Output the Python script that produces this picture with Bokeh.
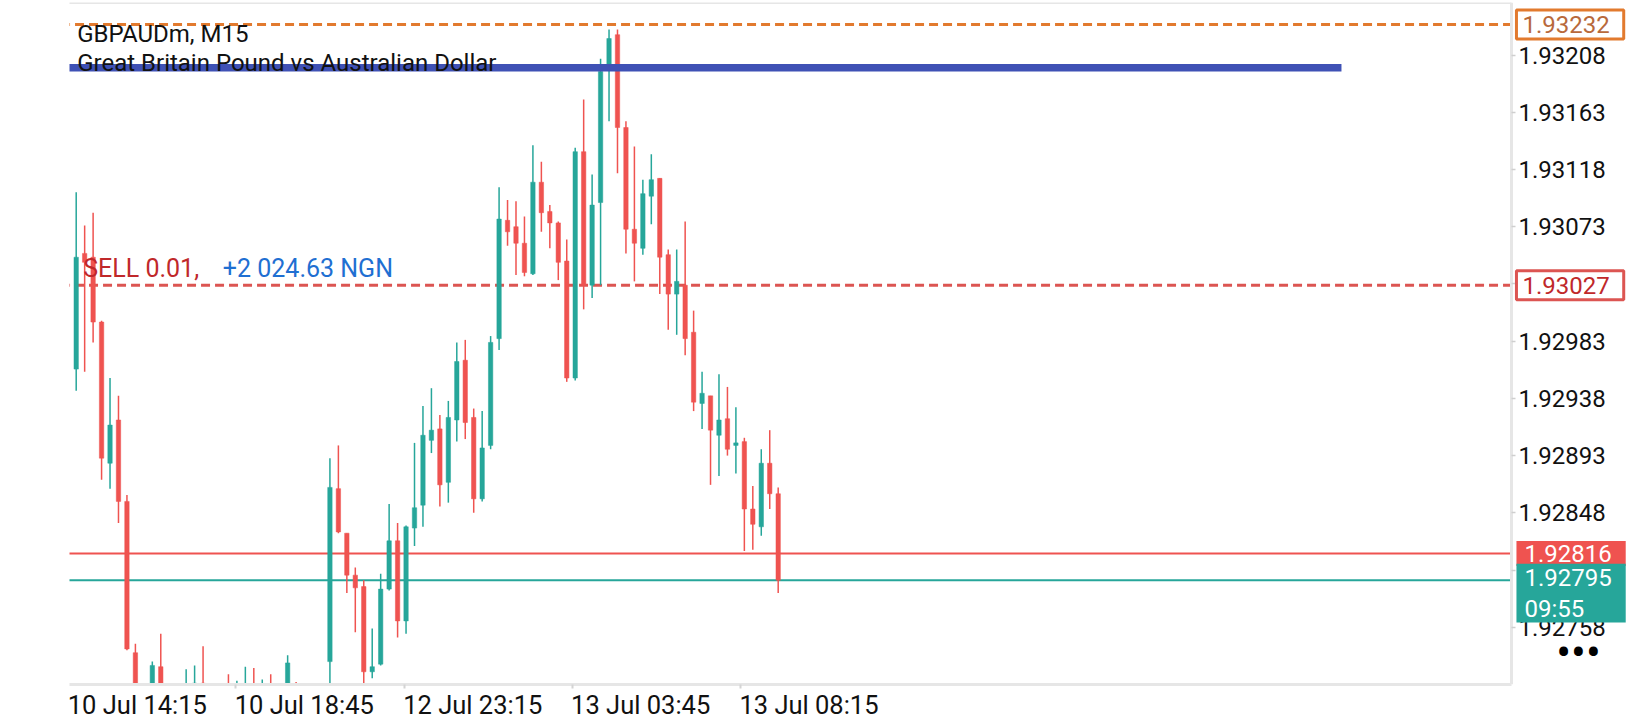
from bokeh.plotting import figure
from bokeh.models import Range1d, FixedTicker, Label, NumeralTickFormatter, ColumnDataSource
from bokeh.embed import file_html
from bokeh.resources import INLINE

# ---------------- data (GBPAUDm, M15) ----------------
opens = [1.92961, 1.93052, 1.93049, 1.92998, 1.92887, 1.92921, 1.92857, 1.92738, 1.92690, 1.92700,
         1.92727, 1.92700, 1.92692, 1.92703, 1.92705, 1.92714, 1.92700, 1.92695, 1.92710, 1.92698,
         1.92700, 1.92712, 1.92702, 1.92710, 1.92700, 1.92700, 1.92712, 1.92690, 1.92698, 1.92685,
         1.92731, 1.92867, 1.92832, 1.92799, 1.92790, 1.92723, 1.92729, 1.92788, 1.92826, 1.92763,
         1.92836, 1.92854, 1.92905, 1.92914, 1.92872, 1.92921, 1.92968, 1.92923, 1.92859, 1.92901,
         1.92985, 1.93078, 1.93073, 1.93060, 1.93036, 1.93108, 1.93085, 1.93076, 1.93046, 1.92954,
         1.93132, 1.93027, 1.93092, 1.93196, 1.93224, 1.93151, 1.93071, 1.93056, 1.93097, 1.93111,
         1.93051, 1.93020, 1.93027, 1.92990, 1.92934, 1.92940, 1.92909, 1.92922, 1.92901, 1.92904,
         1.92851, 1.92837, 1.92887, 1.92863]
highs = [1.93100, 1.93074, 1.93084, 1.92999, 1.92954, 1.92940, 1.92862, 1.92745, 1.92712, 1.92731,
         1.92753, 1.92710, 1.92708, 1.92725, 1.92728, 1.92743, 1.92712, 1.92710, 1.92721, 1.92716,
         1.92727, 1.92726, 1.92717, 1.92721, 1.92712, 1.92736, 1.92715, 1.92705, 1.92710, 1.92712,
         1.92891, 1.92901, 1.92832, 1.92805, 1.92795, 1.92757, 1.92800, 1.92855, 1.92840, 1.92838,
         1.92903, 1.92932, 1.92946, 1.92925, 1.92936, 1.92982, 1.92984, 1.92930, 1.92928, 1.92987,
         1.93104, 1.93094, 1.93093, 1.93081, 1.93137, 1.93124, 1.93090, 1.93077, 1.93063, 1.93135,
         1.93173, 1.93114, 1.93205, 1.93228, 1.93228, 1.93156, 1.93136, 1.93110, 1.93130, 1.93111,
         1.93055, 1.93055, 1.93077, 1.93007, 1.92959, 1.92940, 1.92957, 1.92947, 1.92931, 1.92907,
         1.92869, 1.92898, 1.92913, 1.92868]
lows = [1.92944, 1.92959, 1.92982, 1.92874, 1.92867, 1.92840, 1.92740, 1.92672, 1.92668, 1.92695,
        1.92690, 1.92680, 1.92675, 1.92690, 1.92695, 1.92690, 1.92685, 1.92680, 1.92690, 1.92690,
        1.92695, 1.92695, 1.92696, 1.92690, 1.92688, 1.92695, 1.92680, 1.92670, 1.92675, 1.92680,
        1.92705, 1.92832, 1.92785, 1.92754, 1.92712, 1.92718, 1.92728, 1.92787, 1.92750, 1.92753,
        1.92822, 1.92837, 1.92895, 1.92853, 1.92856, 1.92904, 1.92906, 1.92848, 1.92857, 1.92898,
        1.92976, 1.93058, 1.93035, 1.93034, 1.93035, 1.93069, 1.93056, 1.93031, 1.92951, 1.92952,
        1.93008, 1.93017, 1.93027, 1.93156, 1.93115, 1.93052, 1.93030, 1.93051, 1.93075, 1.93020,
        1.92992, 1.92988, 1.92972, 1.92928, 1.92914, 1.92870, 1.92877, 1.92893, 1.92879, 1.92818,
        1.92819, 1.92830, 1.92851, 1.92785]
closes = [1.93049, 1.93045, 1.92998, 1.92891, 1.92917, 1.92857, 1.92741, 1.92690, 1.92700, 1.92728,
          1.92700, 1.92692, 1.92703, 1.92712, 1.92714, 1.92700, 1.92695, 1.92705, 1.92698, 1.92708,
          1.92712, 1.92702, 1.92710, 1.92700, 1.92706, 1.92730, 1.92690, 1.92698, 1.92685, 1.92705,
          1.92868, 1.92833, 1.92799, 1.92789, 1.92723, 1.92727, 1.92788, 1.92826, 1.92763, 1.92837,
          1.92852, 1.92909, 1.92913, 1.92870, 1.92923, 1.92967, 1.92919, 1.92859, 1.92899, 1.92982,
          1.93079, 1.93069, 1.93060, 1.93037, 1.93108, 1.93084, 1.93076, 1.93045, 1.92954, 1.93132,
          1.93027, 1.93090, 1.93195, 1.93221, 1.93151, 1.93071, 1.93060, 1.93099, 1.93110, 1.93049,
          1.93020, 1.93030, 1.92985, 1.92935, 1.92942, 1.92913, 1.92921, 1.92898, 1.92903, 1.92851,
          1.92839, 1.92887, 1.92863, 1.92795]

x_tick_pos = [-0.87, 18.87, 38.79, 58.64, 78.54]
x_tick_labels = ["10 Jul 14:15", "10 Jul 18:45", "12 Jul 23:15", "13 Jul 03:45", "13 Jul 08:15"]
y_ticks = [1.92758, 1.92803, 1.92848, 1.92893, 1.92938, 1.92983,
           1.93028, 1.93073, 1.93118, 1.93163, 1.93208]

title_lines = ["GBPAUDm, M15", "Great Britain Pound vs Australian Dollar"]
level_price = 1.93232          # orange dashed level
order_price = 1.93027          # SELL order open price
order_text = "SELL 0.01,"
profit_text = "+2 024.63 NGN"
ask_price = 1.92816
bid_price = 1.92795
bar_timer = "09:55"
band_top = 1.93201             # blue drawn object
band_bottom = 1.93195
band_end = 149.6

# ---------------- layout / styling ----------------
GREEN = "#26a69a"
RED = "#ef5350"
ORANGE = "#e27a2e"
DASH_RED = "#dc5552"
BLUE = "#3f51b5"
FRAME = "#e6e6e6"
FONT = "Roboto"

X_START = -0.792     # left edge of the chart area (bar index)
X_BORDER = 169.70    # right border of the chart area, where the price scale sits
X_END = 184.01       # includes the price-scale strip
Y_TOP = 1.932493
Y_BOTTOM = 1.927130

p = figure(frame_width=1563, frame_height=682,
           x_range=Range1d(X_START, X_END), y_range=Range1d(Y_BOTTOM, Y_TOP),
           y_axis_location="right", toolbar_location=None, output_backend="svg",
           min_border_left=69, min_border_right=0, min_border_top=2, min_border_bottom=36,
           background_fill_color="white", border_fill_color="white", outline_line_color=None)
p.grid.visible = False

# horizontal price lines (drawn below candles, ending at the scale border)
p.segment(x0=[X_START - 1], x1=[X_BORDER], y0=[level_price], y1=[level_price],
          line_color=ORANGE, line_width=3, line_dash="9 5")
p.segment(x0=[X_START - 1], x1=[X_BORDER], y0=[order_price], y1=[order_price],
          line_color=DASH_RED, line_width=3, line_dash="9 5")
p.segment(x0=[X_START - 1], x1=[X_BORDER], y0=[ask_price], y1=[ask_price],
          line_color=RED, line_width=2)
p.segment(x0=[X_START - 1], x1=[X_BORDER], y0=[bid_price], y1=[bid_price],
          line_color=GREEN, line_width=2)
# top frame line
p.segment(x0=[X_START - 1], x1=[X_BORDER], y0=[Y_TOP], y1=[Y_TOP],
          line_color=FRAME, line_width=3)

# candles
idx = list(range(len(opens)))
src = ColumnDataSource(dict(
    x=idx, h=highs, l=lows,
    top=[max(o, c) for o, c in zip(opens, closes)],
    bottom=[min(o, c) for o, c in zip(opens, closes)],
    color=[GREEN if c >= o else RED for o, c in zip(opens, closes)],
))
p.segment(x0="x", y0="h", x1="x", y1="l", line_color="color", line_width=1.5, source=src)
p.vbar(x="x", width=0.52, top="top", bottom="bottom", fill_color="color",
       line_color="color", line_width=0.5, source=src)

# blue drawn band
p.quad(left=[X_START - 1], right=[band_end], top=[band_top], bottom=[band_bottom],
       fill_color=BLUE, line_color=None)

# x axis
xa = p.xaxis[0]
label_pos = [round(t + 8.1, 2) for t in x_tick_pos]
xa.ticker = FixedTicker(ticks=label_pos, minor_ticks=x_tick_pos)
xa.major_label_overrides = {lp: lab for lp, lab in zip(label_pos, x_tick_labels)}
xa.bounds = (X_START, X_BORDER)
xa.major_tick_line_color = None
xa.major_tick_out = 0
xa.major_tick_in = 0
xa.minor_tick_in = 0
xa.minor_tick_out = 4
xa.minor_tick_line_color = "#d4d4d4"
xa.minor_tick_line_width = 2
xa.axis_line_color = FRAME
xa.axis_line_width = 3
xa.major_label_standoff = 1
xa.major_label_text_font = FONT
xa.major_label_text_font_size = "25.5px"
xa.major_label_text_color = "#111111"

# price scale, drawn at the chart's right border
ya = p.yaxis[0]
ya.fixed_location = X_BORDER
ya.ticker = FixedTicker(ticks=y_ticks)
ya.formatter = NumeralTickFormatter(format="0.00000")
ya.minor_tick_line_color = None
ya.major_tick_in = 0
ya.major_tick_out = 4
ya.major_tick_line_color = "#cfcfcf"
ya.major_tick_line_width = 1.5
ya.axis_line_color = FRAME
ya.axis_line_width = 3
ya.major_label_standoff = 3
ya.major_label_text_font = FONT
ya.major_label_text_font_size = "24px"
ya.major_label_text_color = "#111111"

# title texts (screen y measured from the bottom of the chart area)
for i, t in enumerate(title_lines):
    p.add_layout(Label(x=7.7, y=650.3 - 28.8 * i, x_units="screen", y_units="screen",
                       text=t, text_font=FONT, text_font_size="24px", text_color="#111111",
                       text_baseline="middle", text_align="left"))

# order label
p.add_layout(Label(x=13.7, x_units="screen", y=415.7, y_units="screen",
                   text=order_text, text_font=FONT, text_font_size="25px", text_color="#c0282a",
                   text_baseline="middle", text_align="left"))
p.add_layout(Label(x=153.3, x_units="screen", y=415.7, y_units="screen",
                   text=profit_text, text_font=FONT, text_font_size="25px", text_color="#1f6fd2",
                   text_baseline="middle", text_align="left"))

# price boxes on the scale
box_x = 170.29
pad = dict(left=6, right=14, top=6, bottom=6)
p.add_layout(Label(x=box_x, y=level_price, text=f"{level_price:.5f}", text_font=FONT,
                   text_font_size="24px", text_color="#b8693b", text_baseline="middle",
                   text_align="left", background_fill_color="white",
                   border_line_color=ORANGE, border_line_width=3, padding=pad))
p.add_layout(Label(x=box_x, y=order_price, text=f"{order_price:.5f}", text_font=FONT,
                   text_font_size="24px", text_color="#c0282a", text_baseline="middle",
                   text_align="left", background_fill_color="white",
                   border_line_color=DASH_RED, border_line_width=3, padding=pad))
p.add_layout(Label(x=box_x, y=ask_price, text=f"{ask_price:.5f}", text_font=FONT,
                   text_font_size="24px", text_color="white", text_baseline="middle",
                   text_align="left", background_fill_color=RED,
                   padding=dict(left=8, right=14, top=4, bottom=4)))
p.add_layout(Label(x=box_x, y=bid_price, y_offset=-13.0, text=f"{bid_price:.5f}\n{bar_timer}",
                   text_font=FONT, text_font_size="24px", text_color="white",
                   text_baseline="middle", text_align="left", background_fill_color=GREEN,
                   text_line_height=1.1,
                   padding=dict(left=8, right=14, top=0, bottom=0)))

# menu dots
p.add_layout(Label(x=1509, y=31.6, x_units="screen", y_units="screen", text="\u2022\u2022\u2022",
                   text_font=FONT, text_font_size="44px", text_color="#000000",
                   text_baseline="middle", text_align="center"))

open("out.html", "w").write(file_html(p, INLINE))
